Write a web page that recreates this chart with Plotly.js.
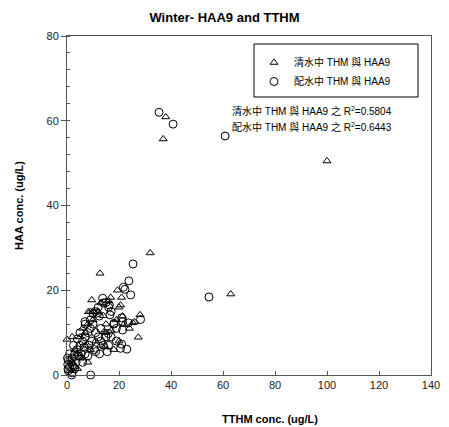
<!DOCTYPE html>
<html>
<head>
<meta charset="utf-8">
<script src="https://cdn.plot.ly/plotly-3.0.1.min.js"></script>
<style>html,body{margin:0;padding:0;background:#fff}#chart{width:449px;height:427px}</style>
</head>
<body>
<div id="chart"></div>
<script>
// 清水中 THM 與 HAA9 (triangles)
var cleanTTHM = [100, 37, 38, 63, 32, 12.7, 0, 19.4, 16.8, 9.5, 21, 20.6, 8.2, 10.1, 21.4, 28.1, 25.3, 27.4, 14.6, 14.2,
  1, 2, 3, 4, 5, 6, 7, 8, 9, 10, 12, 13, 14, 15, 16, 3, 5, 7, 9, 11, 13, 15, 17, 19, 20, 22, 24, 26, 20, 18, 2, 6, 8, 4];
var cleanHAA9 = [50.5, 55.7, 60.9, 19.1, 28.8, 24, 8.4, 20, 18.3, 17.7, 18.3, 16.5, 14.9, 14.9, 13.9, 14.2, 12.3, 8.9, 6.7, 10.2,
  1, 3, 6, 5, 9, 11, 10, 12, 15, 13, 15, 17, 14, 12, 17.5, 2, 4, 7, 6, 8, 7, 10, 10.5, 13, 16, 12, 11, 12.5, 8, 6, 9, 4, 3, 1.5];

// 配水中 THM 與 HAA9 (circles)
var distTTHM = [35.4, 40.8, 60.8, 54.6, 25.4, 23.8, 22.3, 21.7, 24.5, 13.7, 15, 16.3, 11.4, 12.4, 16.5, 28.3, 21.4, 23.6, 18.1, 6.9,
  21.4, 21, 20.6, 23, 15.9, 1.8, 9.1,
  0.5, 1, 1.5, 0.5, 2, 2.5, 3, 1, 4, 3.5, 5, 4.5, 6, 5.5, 7, 6.5, 8, 7, 9, 8.5, 10, 9.5, 11, 12, 10.5, 13, 12.5, 14, 3, 2, 6, 8, 11, 15,
  13, 9, 7, 5, 4, 2.5, 11, 12, 10, 14, 16, 17, 18, 19, 17, 16, 19, 21, 15.5, 0.3, 0.2, 0.4];
var distHAA9 = [62, 59.2, 56.4, 18.4, 26.2, 22.2, 20.2, 20.7, 18.9, 18.1, 17.1, 16.5, 14.6, 13.9, 14.2, 13.1, 12.6, 12.3, 12.2, 12.6,
  10.6, 7.3, 6.3, 6.1, 9.8, 0, 0,
  1, 2, 3, 3.5, 4, 2, 5, 5, 6, 3, 7, 4.5, 8, 5, 9, 6.5, 10, 5, 11, 7, 12, 8, 10, 9, 6, 8, 5, 7, 1.5, 0.5, 3, 4.5, 5.5, 9,
  11, 13, 12, 10, 8.5, 7, 15, 16, 14.5, 17, 16, 15, 12, 11, 9, 7, 8, 13.5, 5.5, 2.5, 4, 1.5];

var xTicks = [0, 20, 40, 60, 80, 100, 120, 140];
var yTicks = [0, 20, 40, 60, 80];

var fontMain = 'Liberation Sans, Arial, sans-serif';
var fontCJK = 'Liberation Sans, "Noto Sans CJK TC", sans-serif';

var traces = [
  {x: cleanTTHM, y: cleanHAA9, mode: 'markers', type: 'scatter', name: '清水中 THM 與 HAA9',
   marker: {symbol: 'triangle-up-open', size: 7, color: '#000', line: {width: 1, color: '#000'}}, cliponaxis: false},
  {x: distTTHM, y: distHAA9, mode: 'markers', type: 'scatter', name: '配水中 THM 與 HAA9',
   marker: {symbol: 'circle-open', size: 8, color: '#000', line: {width: 1, color: '#000'}}, cliponaxis: false}
];

var layout = {
  width: 449, height: 427,
  margin: {l: 67, r: 18, t: 36, b: 52},
  paper_bgcolor: '#fff', plot_bgcolor: '#fff',
  showlegend: true,
  title: {text: '<b>Winter- HAA9 and TTHM</b>', x: 0.5, xref: 'container', y: 1 - 17/427, yanchor: 'middle',
          font: {family: fontMain, size: 13, color: '#000'}},
  xaxis: {range: [0, 140], tickvals: xTicks, ticks: 'inside', ticklen: 4, tickcolor: '#555',
          showline: true, linecolor: '#555', linewidth: 1, mirror: true, showgrid: false, zeroline: false,
          tickfont: {family: fontMain, size: 11, color: '#222'}},
  yaxis: {range: [0, 80], tickvals: yTicks, ticks: 'outside', ticklen: 5, tickcolor: '#555',
          minor: {dtick: 4, tick0: 0, ticks: 'inside', ticklen: 3, tickcolor: '#555'},
          showline: true, linecolor: '#555', linewidth: 1, mirror: true, showgrid: false, zeroline: false,
          tickfont: {family: fontMain, size: 11, color: '#222'},
          title: {text: '<b>HAA conc. (ug/L)</b>', font: {family: fontMain, size: 11, color: '#000'}, standoff: 20}},
  legend: {x: (254 - 67) / 364, y: (375 - 48) / 339, xanchor: 'left', yanchor: 'top', bgcolor: 'rgba(0,0,0,0)',
           borderwidth: 0, font: {family: fontCJK, size: 10, color: '#000'}, itemwidth: 30},
  shapes: [{type: 'rect', xref: 'paper', yref: 'paper', x0: (254 - 67) / 364, x1: (418 - 67) / 364,
            y0: (375 - 97) / 339, y1: (375 - 44) / 339, line: {color: '#000', width: 1}, fillcolor: 'rgba(0,0,0,0)'}],
  annotations: [
    {xref: 'paper', yref: 'paper', x: (270 - 67) / 364, y: (375 - 419) / 339, xanchor: 'center', yanchor: 'middle',
     showarrow: false, text: '<b>TTHM conc. (ug/L)</b>', font: {family: fontMain, size: 11, color: '#000'}},
    {xref: 'paper', yref: 'paper', x: (394 - 67) / 364, y: (375 - 111) / 339, xanchor: 'right', yanchor: 'middle',
     showarrow: false, text: '清水中 THM 與 HAA9 之 R<sup>2</sup>=0.5804', font: {family: fontCJK, size: 10, color: '#000'}},
    {xref: 'paper', yref: 'paper', x: (394 - 67) / 364, y: (375 - 127) / 339, xanchor: 'right', yanchor: 'middle',
     showarrow: false, text: '配水中 THM 與 HAA9 之 R<sup>2</sup>=0.6443', font: {family: fontCJK, size: 10, color: '#000'}}
  ]
};

Plotly.newPlot('chart', traces, layout, {staticPlot: true, displayModeBar: false});
</script>
</body>
</html>
